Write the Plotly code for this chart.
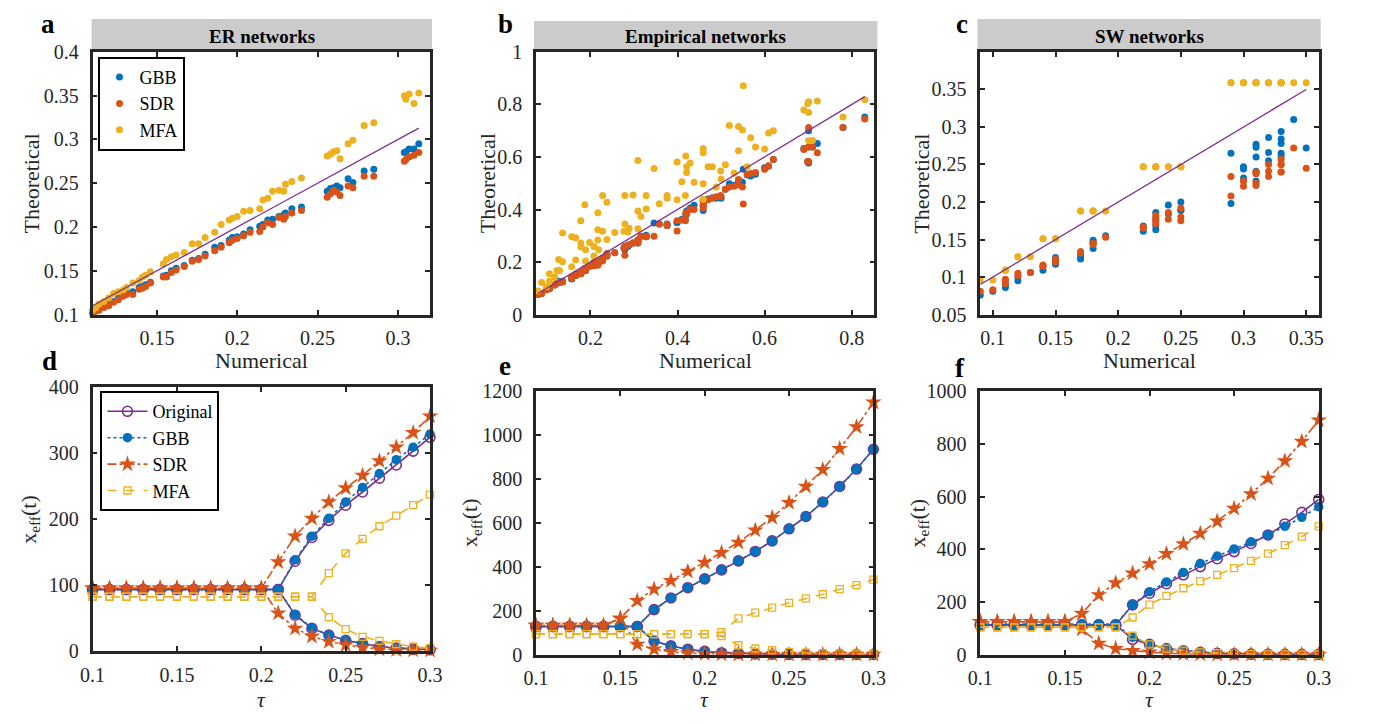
import plotly.graph_objects as go

# ---------------- data ----------------
# Panel a : ER networks (numerical vs theoretical)
a_num = [0.313,0.310,0.307,0.305,0.304,0.285,0.279,0.272,0.269,0.264,0.262,0.260,0.258,0.256,
         0.240,0.234,0.230,0.229,0.226,0.222,0.219,0.216,0.214,0.208,0.204,0.200,0.197,0.195,
         0.190,0.186,0.180,0.176,0.172,0.167,0.162,0.159,0.156,0.154,0.146,0.143,0.141,0.139,
         0.135,0.131,0.129,0.126,0.123,0.120,0.117,0.114,0.112,0.110]
a_gbb = [0.295,0.289,0.289,0.286,0.285,0.266,0.264,0.251,0.255,0.245,0.247,0.245,0.244,0.241,
         0.223,0.221,0.216,0.214,0.212,0.209,0.208,0.203,0.201,0.197,0.192,0.189,0.188,0.185,
         0.179,0.177,0.169,0.164,0.162,0.156,0.153,0.150,0.145,0.144,0.137,0.134,0.132,0.131,
         0.126,0.125,0.123,0.119,0.115,0.112,0.109,0.106,0.104,0.103]
a_sdr = [0.285,0.282,0.280,0.277,0.275,0.258,0.258,0.245,0.247,0.236,0.240,0.242,0.238,0.234,
         0.219,0.216,0.212,0.209,0.211,0.203,0.205,0.200,0.195,0.194,0.190,0.187,0.185,0.182,
         0.177,0.173,0.167,0.163,0.161,0.155,0.151,0.148,0.143,0.143,0.136,0.132,0.130,0.129,
         0.123,0.123,0.121,0.117,0.114,0.110,0.108,0.105,0.104,0.101]
a_mfa = [0.353,0.341,0.352,0.346,0.350,0.319,0.316,0.299,0.295,0.278,0.287,0.286,0.283,0.281,
         0.256,0.252,0.249,0.241,0.242,0.241,0.233,0.231,0.221,0.219,0.218,0.212,0.210,0.208,
         0.203,0.194,0.188,0.181,0.181,0.171,0.168,0.166,0.163,0.158,0.149,0.145,0.143,0.139,
         0.136,0.131,0.128,0.126,0.124,0.119,0.115,0.112,0.108,0.105]

# Panel b : Empirical networks
b_num = [0.830,0.780,0.721,0.701,0.699,0.690,0.701,0.710,0.701,0.620,
         0.609,0.600,0.579,0.568,0.560,0.551,0.540,0.540,0.549,0.519,
         0.530,0.510,0.499,0.500,0.489,0.480,0.470,0.459,0.459,0.459,
         0.459,0.438,0.429,0.421,0.419,0.421,0.418,0.410,0.399,0.399,
         0.376,0.376,0.358,0.346,0.328,0.328,0.316,0.309,0.309,0.309,
         0.298,0.289,0.286,0.279,0.279,0.277,0.256,0.238,0.238,0.228,
         0.228,0.219,0.217,0.217,0.217,0.208,0.208,0.198,0.189,0.189,
         0.187,0.178,0.178,0.178,0.166,0.166,0.157,0.157,0.136,0.136,
         0.127,0.129,0.123,0.118,0.106,0.106,0.099,0.088,0.080]
b_gbb = [0.752,0.712,0.651,0.700,0.583,0.632,0.638,0.638,0.577,0.590,
         0.565,0.559,0.534,0.528,0.531,0.553,0.510,0.494,0.504,0.498,
         0.492,0.477,0.449,0.443,0.443,0.445,0.440,0.396,0.418,0.431,
         0.437,0.416,0.406,0.388,0.382,0.394,0.363,0.363,0.351,0.351,
         0.345,0.339,0.345,0.349,0.302,0.296,0.298,0.284,0.278,0.272,
         0.272,0.265,0.259,0.259,0.247,0.253,0.235,0.232,0.223,0.213,
         0.210,0.201,0.198,0.196,0.192,0.198,0.188,0.186,0.174,0.168,
         0.174,0.161,0.159,0.155,0.153,0.149,0.135,0.137,0.127,0.125,
         0.127,0.122,0.119,0.113,0.100,0.098,0.094,0.080,0.076]
b_sdr = [0.745,0.712,0.616,0.712,0.583,0.629,0.638,0.638,0.583,0.590,
         0.567,0.553,0.541,0.537,0.534,0.421,0.514,0.494,0.486,0.486,
         0.489,0.477,0.453,0.449,0.449,0.443,0.437,0.406,0.431,0.412,
         0.418,0.400,0.400,0.388,0.388,0.382,0.357,0.360,0.357,0.318,
         0.343,0.339,0.345,0.298,0.298,0.296,0.298,0.284,0.281,0.272,
         0.272,0.265,0.265,0.257,0.226,0.253,0.235,0.232,0.223,0.213,
         0.204,0.201,0.196,0.192,0.188,0.196,0.186,0.183,0.174,0.168,
         0.174,0.161,0.155,0.155,0.149,0.149,0.143,0.137,0.125,0.125,
         0.122,0.122,0.119,0.113,0.100,0.098,0.094,0.080,0.076]
b_mfa = [0.818,0.752,0.813,0.810,0.804,0.779,0.769,0.663,0.663,0.700,
         0.691,0.630,0.638,0.673,0.563,0.871,0.716,0.624,0.703,0.720,
         0.538,0.570,0.547,0.516,0.486,0.563,0.563,0.632,0.616,0.498,
         0.439,0.504,0.577,0.563,0.604,0.541,0.453,0.506,0.581,0.437,
         0.453,0.443,0.422,0.556,0.453,0.402,0.373,0.587,0.394,0.327,
         0.455,0.329,0.314,0.453,0.345,0.317,0.312,0.428,0.286,0.453,
         0.317,0.247,0.388,0.323,0.284,0.259,0.223,0.274,0.247,0.204,
         0.418,0.357,0.272,0.257,0.292,0.208,0.296,0.182,0.311,0.201,
         0.210,0.168,0.168,0.143,0.155,0.127,0.106,0.122,0.090]

# Panel c : SW networks
c_num = [0.09,0.10,0.11,0.11,0.11,0.12,0.12,0.13,0.14,0.14,0.15,0.15,0.15,0.17,0.17,
         0.18,0.18,0.18,0.19,0.22,0.22,0.23,0.23,0.23,0.23,0.24,0.24,0.25,0.25,0.25,
         0.29,0.29,0.30,0.30,0.30,0.31,0.31,0.31,0.31,0.31,0.32,0.32,0.32,
         0.33,0.33,0.33,0.33,0.33,0.34,0.35]
c_gbb = [0.076,0.081,0.086,0.090,0.090,0.095,0.100,0.106,0.109,0.114,0.117,0.126,0.119,0.124,0.128,
         0.138,0.149,0.146,0.155,0.161,0.168,0.163,0.186,0.168,0.176,0.196,0.184,0.200,0.189,0.189,
         0.265,0.198,0.247,0.244,0.232,0.277,0.273,0.260,0.241,0.228,0.286,0.266,0.255,
         0.294,0.284,0.278,0.265,0.261,0.310,0.272]
c_sdr = [0.081,0.083,0.094,0.091,0.097,0.105,0.102,0.106,0.116,0.114,0.124,0.120,0.120,0.134,0.132,
         0.145,0.143,0.145,0.153,0.167,0.165,0.182,0.179,0.171,0.175,0.186,0.177,0.192,0.180,0.175,
         0.234,0.208,0.228,0.221,0.228,0.240,0.238,0.225,0.222,0.238,0.250,0.241,0.234,
         0.257,0.250,0.240,0.250,0.240,0.272,0.245]
c_mfa = [0.096,0.096,0.109,0.109,0.109,0.127,0.127,0.127,0.151,0.151,0.151,0.151,0.151,0.188,0.188,
         0.188,0.188,0.188,0.188,0.247,0.247,0.247,0.247,0.247,0.247,0.247,0.247,0.247,0.247,0.247,
         0.359,0.359,0.359,0.359,0.359,0.359,0.359,0.359,0.359,0.359,0.359,0.359,0.359,
         0.359,0.359,0.359,0.359,0.359,0.359,0.359]

# Panels d-f : x_eff versus tau (upper and lower branches)
tau = [0.10,0.11,0.12,0.13,0.14,0.15,0.16,0.17,0.18,0.19,0.20,
       0.21,0.22,0.23,0.24,0.25,0.26,0.27,0.28,0.29,0.30]

d_orig_up  = [93,93,93,93,93,93,93,93,93,93,93,93,136,172,198,221,241,262,282,303,324]
d_orig_low = [93,93,93,93,93,93,93,93,93,93,93,93,54,34,24,16,11,6.5,4,2.5,1.5]
d_gbb_up   = [93,93,93,93,93,93,93,93,93,93,93,93,138,174,201,226,248,269,290,309,329]
d_gbb_low  = [93,93,93,93,93,93,93,93,93,93,93,93,55,35,24,16,11,6.5,4,2.5,1.5]
d_sdr_up   = [95,95,95,95,95,95,95,95,95,95,95,135,174,201,226,247,266,288,309,331,356]
d_sdr_low  = [95,95,95,95,95,95,95,95,95,95,95,57,34,22,14,9,5,2.5,1.5,1,0.5]
d_mfa_up   = [82,82,82,82,82,82,82,82,82,82,82,82,82,82,118,148,170,189,205,221,237]
d_mfa_low  = [82,82,82,82,82,82,82,82,82,82,82,82,82,82,51,33,21,15,10,6.4,4]

e_orig_up  = [128,128,128,128,128,128,128,205,258,305,345,386,427,470,518,573,629,695,766,845,935]
e_orig_low = [128,128,128,128,128,128,128,62,40,25,15,9,6,3,2,1.5,1,1,1,1,1]
e_gbb_up   = [128,128,128,128,128,128,128,205,258,305,345,386,427,470,518,573,629,695,766,845,935]
e_gbb_low  = [128,128,128,128,128,128,128,62,40,25,15,9,6,3,2,1.5,1,1,1,1,1]
e_sdr_up   = [133,133,133,133,133,165,246,298,337,379,420,464,511,567,624,692,766,842,938,1037,1149]
e_sdr_low  = [133,133,133,133,133,165,47,25,13,7,4,2,1.5,1,1,1,1,1,1,1,1]
e_mfa_up   = [94,94,94,94,94,94,94,94,94,94,94,103,165,191,214,236,256,275,298,317,342]
e_mfa_low  = [94,94,94,94,94,94,94,94,94,94,94,84,43,28,21,13,9,6,4.4,3,3]

f_orig_up  = [113,113,113,113,113,113,113,113,113,189,233,269,303,334,364,391,422,454,496,540,589]
f_orig_low = [113,113,113,113,113,113,113,113,113,58,39,23,15,9,5,3,2,1.5,1,1,1]
f_gbb_up   = [115,115,115,115,115,115,115,115,115,189,239,276,312,346,374,401,428,454,487,521,561]
f_gbb_low  = [115,115,115,115,115,115,115,115,115,66,39,23,15,9,5,3,2,1.5,1,1,1]
f_sdr_up   = [125,125,125,125,125,125,156,227,272,309,344,383,420,460,506,555,610,669,735,809,890]
f_sdr_low  = [125,125,125,125,125,125,97,43,23,15,9,5,2.5,1.5,1,1,1,1,1,1,1]
f_mfa_up   = [104,104,104,104,104,104,104,104,104,141,190,223,252,279,303,328,356,383,416,448,487]
f_mfa_low  = [104,104,104,104,104,104,104,104,104,72,39,23,15,9,6,3,2,1.5,1,1,1]

panel_titles = ["ER networks", "Empirical networks", "SW networks"]
panel_letters = ["a", "b", "c", "d", "e", "f"]

# ---------------- style ----------------
PAGE_W, PAGE_H = 1377, 726
BODY = 8                      # default body margin of the html page
W, H = PAGE_W - 2 * BODY, PAGE_H - 2 * BODY
BLUE, ORANGE, YELLOW, PURPLE = "#0072BD", "#D95319", "#EDB120", "#7E2F8E"
FONT = "Liberation Serif"
AXC = "#262626"

def fx(p):
    return (p - BODY) / W

def fy(p):
    return 1 - (p - BODY) / H

fig = go.Figure()

# page-pixel boxes (left, right, top, bottom) of the six axes
boxes = [(81, 425, 42, 313), (533, 878, 42, 313), (986, 1331, 42, 313),
         (81, 425, 388, 660), (533, 877, 392, 664), (986, 1331, 392, 664)]

x_ranges = [[0.11, 0.32], [0.075, 0.852], [0.09, 0.36], [0.1, 0.3], [0.1, 0.3], [0.1, 0.3]]
y_ranges = [[0.1, 0.4], [0, 1], [0.05, 0.4], [0, 400], [0, 1200], [0, 1000]]
x_ticks = [[0.15, 0.2, 0.25, 0.3], [0.2, 0.4, 0.6, 0.8],
           [0.1, 0.15, 0.2, 0.25, 0.3, 0.35],
           [0.1, 0.15, 0.2, 0.25, 0.3], [0.1, 0.15, 0.2, 0.25, 0.3], [0.1, 0.15, 0.2, 0.25, 0.3]]
y_ticks = [[0.1, 0.15, 0.2, 0.25, 0.3, 0.35, 0.4], [0, 0.2, 0.4, 0.6, 0.8, 1],
           [0.05, 0.1, 0.15, 0.2, 0.25, 0.3, 0.35],
           [0, 100, 200, 300, 400], [0, 200, 400, 600, 800, 1000, 1200],
           [0, 200, 400, 600, 800, 1000]]

def fmt(v):
    return "%g" % v

layout_axes = {}
for i in range(6):
    l, r, t, b = boxes[i]
    sfx = "" if i == 0 else str(i + 1)
    common = dict(showline=True, linewidth=2.5, linecolor=AXC, mirror="ticks",
                  ticks="inside", ticklen=5, tickwidth=2, tickcolor=AXC,
                  showgrid=False, zeroline=False, fixedrange=True,
                  tickfont=dict(family=FONT, size=20, color=AXC))
    layout_axes["xaxis" + sfx] = dict(common, domain=[fx(l), fx(r)], range=x_ranges[i],
                                      tickmode="array", tickvals=x_ticks[i],
                                      ticktext=[fmt(v) for v in x_ticks[i]],
                                      anchor="y" + sfx, ticklabelstandoff=4)
    layout_axes["yaxis" + sfx] = dict(common, domain=[fy(b), fy(t)], range=y_ranges[i],
                                      tickmode="array", tickvals=y_ticks[i],
                                      ticktext=[fmt(v) for v in y_ticks[i]],
                                      anchor="x" + sfx, ticklabelstandoff=7)

def ref(i):
    return ("x" if i == 0 else "x%d" % (i + 1)), ("y" if i == 0 else "y%d" % (i + 1))

# ---------- scatter panels ----------
scatter_sets = [(a_num, a_gbb, a_sdr, a_mfa), (b_num, b_gbb, b_sdr, b_mfa), (c_num, c_gbb, c_sdr, c_mfa)]
for i, (xn, g, s, m) in enumerate(scatter_sets):
    xr, yr = ref(i)
    for name, vals, col in (("GBB", g, BLUE), ("SDR", s, ORANGE), ("MFA", m, YELLOW)):
        fig.add_trace(go.Scatter(x=xn, y=vals, mode="markers", name=name, xaxis=xr, yaxis=yr,
                                 marker=dict(color=col, size=7, line=dict(width=0)),
                                 showlegend=(i == 0), legend="legend", cliponaxis=False))
    lo, hi = min(xn), max(xn)
    fig.add_trace(go.Scatter(x=[lo, hi], y=[lo, hi], mode="lines", xaxis=xr, yaxis=yr,
                             line=dict(color=PURPLE, width=1.3), showlegend=False))

# ---------- line panels ----------
line_sets = [
    (d_orig_up, d_orig_low, d_gbb_up, d_gbb_low, d_sdr_up, d_sdr_low, d_mfa_up, d_mfa_low),
    (e_orig_up, e_orig_low, e_gbb_up, e_gbb_low, e_sdr_up, e_sdr_low, e_mfa_up, e_mfa_low),
    (f_orig_up, f_orig_low, f_gbb_up, f_gbb_low, f_sdr_up, f_sdr_low, f_mfa_up, f_mfa_low),
]
styles = [
    ("Original", PURPLE, "solid", dict(symbol="circle-open", size=10, color=PURPLE, line=dict(width=1.6, color=PURPLE))),
    ("GBB", BLUE, "dot", dict(symbol="circle", size=9.5, color=BLUE, line=dict(width=0))),
    ("SDR", ORANGE, "dashdot", dict(symbol="star", size=12.5, color=ORANGE, line=dict(width=0))),
    ("MFA", YELLOW, "dash", dict(symbol="square-open", size=7, color=YELLOW, line=dict(width=1.3, color=YELLOW))),
]
for j, series in enumerate(line_sets):
    xr, yr = ref(j + 3)
    for k, (name, col, dash, mk) in enumerate(styles):
        for br in range(2):
            fig.add_trace(go.Scatter(x=tau, y=series[2 * k + br], mode="lines+markers", name=name,
                                     xaxis=xr, yaxis=yr,
                                     line=dict(color=col, width=1.6, dash=dash), marker=mk,
                                     showlegend=(j == 0 and br == 0), legend="legend2",
                                     legendgroup=name, cliponaxis=False))

# ---------- decorations ----------
shapes = []
annotations = []
header_px = [(80, 427, 8, 42), (531, 881, 10, 42), (983, 1333, 8, 42)]
for (l, r, t, b), title in zip(header_px, panel_titles):
    shapes.append(dict(type="rect", xref="paper", yref="paper", x0=fx(l), x1=fx(r), y0=fy(b), y1=fy(t),
                       fillcolor="#CBCBCB", line=dict(width=0), layer="below"))
    annotations.append(dict(text="<b>%s</b>" % title, x=fx((l + r) / 2), y=fy(26), xref="paper", yref="paper",
                            showarrow=False, xanchor="center", yanchor="middle",
                            font=dict(family=FONT, size=19, color="black")))

letter_pos = [(36, 13), (502, 13), (967, 13), (37, 361), (501, 366), (965, 368)]
for lt, (px_, py_) in zip(panel_letters, letter_pos):
    annotations.append(dict(text="<b>%s</b>" % lt, x=fx(px_), y=fy(py_), xref="paper", yref="paper",
                            showarrow=False, xanchor="center", yanchor="middle",
                            font=dict(family=FONT, size=27, color="black")))

def label(text, x, y, angle=0, size=22):
    annotations.append(dict(text=text, x=fx(x), y=fy(y), xref="paper", yref="paper", showarrow=False,
                            xanchor="center", yanchor="middle", textangle=angle,
                            font=dict(family=FONT, size=size, color=AXC)))

for xc in (253, 705.5, 1158.5):
    label("Numerical", xc, 360)
for xc in (18.5, 483, 926):
    label("Theoretical", xc, 177.5, angle=-90)
for xc, yc in ((17, 524), (467, 528), (923, 528)):
    label("x<sub>eff</sub>(t)", xc, yc, angle=-90)
for xc in (253, 705, 1158.5):
    label("<i>τ</i>", xc, 710)

fig.update_layout(
    width=W, height=H, margin=dict(l=0, r=0, t=0, b=0),
    paper_bgcolor="white", plot_bgcolor="white",
    font=dict(family=FONT, color=AXC),
    shapes=shapes, annotations=annotations,
    legend=dict(x=fx(86), y=fy(47), xanchor="left", yanchor="top", bgcolor="white",
                bordercolor="black", borderwidth=2, font=dict(family=FONT, size=18, color="black"),
                itemwidth=30, tracegroupgap=0),
    legend2=dict(x=fx(89), y=fy(392), xanchor="left", yanchor="top", bgcolor="white",
                 bordercolor="black", borderwidth=2, font=dict(family=FONT, size=18, color="black"),
                 itemwidth=40, tracegroupgap=0),
    **layout_axes,
)

fig.write_html("out.html", config={"displayModeBar": False})
